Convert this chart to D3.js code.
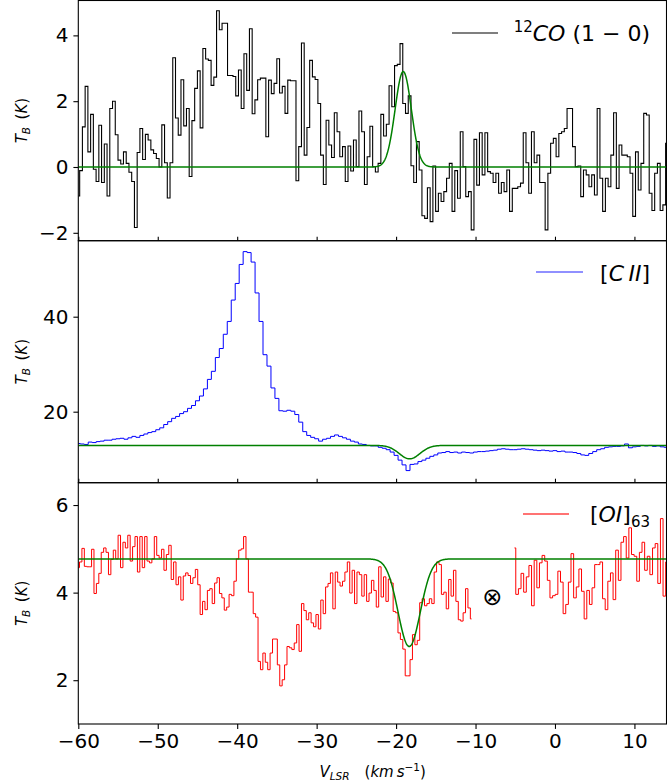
<!DOCTYPE html>
<html>
<head>
<meta charset="utf-8">
<script src="https://cdn.jsdelivr.net/npm/d3@7"></script>
<style>
  body { margin: 0; background: #fff; }
  svg { display: block; font-family: "DejaVu Sans", sans-serif; }
</style>
</head>
<body>
<svg id="chart"></svg>
<script>
// Spectra (T_B in K), channels evenly spaced over the given velocity span
const coSpan = [-60, 14.1];
const coValues = [
  -0.88, -0.11, 1.22, 2.45, 0.46, 1.60, -0.07, -0.44, 1.27, -0.47, 0.70, -0.88, 1.78, 2.00, 0.98, 0.21,
  0.09, 0.46, 0.11, -0.16, -0.44, -1.84, 0.44, 1.17, 0.23, 0.99, 0.82, 0.52, 0.41, 0.26, 0.00, 1.28,
  0.13, -0.94, 0.13, 3.32, 1.49, 0.97, 2.65, 1.25, 1.78, -0.29, 1.41, 2.39, 2.92, 1.19, 3.60, 3.28,
  3.24, 2.48, 2.73, 4.75, 4.17, 4.37, 4.37, 2.78, 2.78, 2.75, 2.16, 2.95, 1.78, 3.44, 2.33, 4.20,
  1.62, 2.04, 2.65, 2.70, 2.70,
  0.92, 2.64, 2.23, 2.54, 3.29, 2.25, 2.45, 1.63, 2.64, 2.62, 2.62, -0.42, 0.62, 3.77, 0.36, 1.20,
  3.24, 2.74, 2.66, 1.93, 0.36, -0.53, 1.42, 0.67, 0.29, 1.65, 1.07, 0.31, 0.62, -0.44, 0.64, -0.12,
  0.82, 0.01, 1.70, 1.07, -0.53, 0.31, 1.24, 0.01, -0.15, 0.11, 1.60, 0.94, 1.30, 2.47, 1.83, 3.08,
  3.12, 3.75, 1.93, 1.63, 2.16, 0.04, -0.47, 0.77, -0.09, -1.48, -1.56, -0.63, -1.66, 0.03, -1.35, -0.80,
  -1.05, -0.75, -0.34, 0.11, -1.35, -0.11,
  -0.95, 1.07, 0.01, -0.90, -0.75, -1.91, 0.84, -0.55, 1.04, -0.24, 1.04, -0.14, -0.19, -0.47, -0.19, -0.80,
  -0.47, -0.75, -0.09, -1.35, -0.65, -0.65, -0.60, -0.49, 1.04, 0.13, -0.80, 1.07, 0.13, 0.36, -0.47, -0.47,
  -1.91, -0.19, 0.72, 0.87, 0.31, 1.02, 1.07, 1.17, 1.78, 1.78, 0.62, 0.01, 0.03, -0.90, -0.09, -0.24,
  -0.60, -0.24, -0.85, 1.78, -0.34, -1.35, -0.34, -0.60, 0.36, 1.65, -0.65, 0.67, 0.36, 0.36, 0.31, -0.19,
  -1.50, 0.46, -0.70, 0.11, 1.63, 1.58, -0.80, -1.32, -0.19, 0.11, -1.32, -1.15, 0.72
];

const ciiSpan = [-60, 14];
const ciiValues = [
  13.3, 13.2, 13.1, 13.6, 13.5, 13.7, 13.8, 14.0, 14.0, 14.2, 14.3, 14.4, 14.2, 14.5, 14.8, 14.6,
  15.0, 15.3, 15.6, 15.8, 16.2, 16.6, 17.3, 17.9, 18.6, 19.0, 19.6, 20.0, 20.7, 21.3, 22.3, 23.3,
  24.8, 26.8, 28.5, 31.4, 33.3, 36.3, 39.0, 43.5, 47.0, 51.0, 53.7, 53.5, 51.5, 45.0, 39.0, 32.0,
  29.6, 25.0, 22.8, 20.2, 20.1, 20.3, 20.1, 19.4, 17.8, 15.8, 15.0, 14.6, 14.3, 13.8, 14.2, 14.4,
  14.8, 15.1, 14.8, 14.5, 14.2, 13.8, 13.6, 13.2, 13.1, 12.9, 12.8,
  12.8, 12.5, 12.3, 12.0, 11.5, 10.8, 9.8, 8.8, 7.6, 8.9, 9.0, 9.5, 9.8, 10.2, 10.6, 10.9,
  11.3, 11.4, 11.6, 11.4, 11.5, 11.3, 11.5, 11.4, 11.3, 11.5, 11.6, 11.6, 11.7, 11.8, 11.9, 12.1,
  12.2, 12.1, 12.0, 12.0, 12.1, 12.2, 12.1, 12.0, 11.9, 11.8, 11.9, 11.8, 11.7, 11.8, 11.6, 11.7,
  11.5, 11.5, 11.4, 11.2, 10.9, 10.8, 11.2, 11.6, 12.0, 12.2, 12.5, 12.6, 12.7, 12.7, 12.8, 13.2,
  12.4, 12.6, 12.7, 12.9, 12.8, 12.9, 12.7, 12.8, 12.6, 12.5
];

// [OI] has a gap in the middle (marked with the ⊗ symbol)
const oiSpanA = [-60, -10.5];
const oiValuesA = [
  4.57, 4.70, 5.01, 4.60, 4.59, 4.59, 4.99, 3.98, 4.21, 4.44, 4.92, 5.02, 4.92, 4.41, 4.76, 4.97,
  4.77, 5.31, 4.57, 5.15, 5.02, 5.31, 4.72, 5.05, 5.28, 4.47, 5.28, 4.57, 5.28, 4.72, 4.68, 4.77,
  5.28, 4.85, 4.79, 4.99, 4.51, 4.87, 5.08, 4.30, 4.70, 4.18, 4.36, 3.83, 4.38, 4.45, 4.39, 4.21,
  4.34, 4.53, 4.18, 3.50, 3.80, 3.61, 4.05, 4.09, 3.75, 4.22, 4.34, 3.98, 3.88, 3.60, 3.67, 3.96,
  3.93, 4.26, 4.77, 4.97, 5.00, 5.28, 4.77, 4.01, 4.01, 3.52, 3.44, 2.43, 2.24, 2.62, 2.41, 2.24,
  2.62, 2.94, 2.94, 2.35, 1.87, 2.01, 2.35, 2.77, 2.74, 2.70, 2.85, 3.27, 2.66, 3.75, 3.59, 3.38,
  3.54, 3.31, 3.22, 3.50, 3.17, 3.83, 3.52, 4.13, 4.21, 4.45, 3.63, 4.47, 4.24, 4.15, 4.26, 4.47,
  4.70, 3.99, 4.51, 3.75, 4.47, 4.41, 3.92, 4.41, 3.80, 3.99, 4.28, 4.05, 3.67, 4.59, 3.90, 4.36,
  3.80, 4.31, 4.22, 3.57, 3.54, 3.08, 2.93, 2.71, 2.10, 2.10, 2.47, 3.04, 2.81, 2.91, 3.77, 3.86,
  3.70, 3.75, 3.86, 3.75, 4.47, 4.70, 4.64, 3.96, 4.01, 3.63, 4.30, 3.92, 4.51, 3.80,
  3.38, 3.35, 3.54, 4.09, 3.65, 3.40
];
const oiSpanB = [-5.1, 14.1];
const oiValuesB = [
  5.02, 3.96, 4.09, 4.44, 4.01, 4.36, 4.62, 3.70, 4.74, 4.11, 4.68, 4.85, 4.72, 4.28, 3.88, 3.93,
  3.96, 4.49, 4.24, 3.52, 3.73, 4.24, 4.89, 3.88, 4.13, 4.54, 4.03, 3.40, 4.05, 3.73, 4.11, 4.64,
  4.64, 4.70, 3.86, 3.61, 4.26, 4.45, 3.84, 4.97, 4.28, 5.15, 5.28, 4.79, 5.48, 4.87, 4.83, 4.26,
  4.92, 5.15, 4.51, 4.83, 4.41, 5.02, 5.12, 4.21, 5.69, 3.92, 4.70
];
const gapMark = [-7.9, 3.89];

// Gaussian fits: [baseline, amplitude, centre, sigma]
const coFit = [0, 2.9, -19.1, 1.02];
const ciiFit = [12.9, -2.83, -18.3, 1.3];
const oiFit = [4.77, -2.0, -18.35, 1.4];

// Axis ticks
const xTicks = [-60, -50, -40, -30, -20, -10, 0, 10];
const coTicks = [-2, 0, 2, 4];
const ciiTicks = [20, 40];
const oiTicks = [2, 4, 6];

const width = 667, height = 784;
const left = 78.3, right = 667;

const svg = d3.select("#chart")
    .attr("width", width)
    .attr("height", height)
    .attr("viewBox", [0, 0, width, height]);

const x = d3.scaleLinear().domain([-60, 14.1]).range([left, right]);

const panels = [
    { top: 0.5,   bottom: 240.7, domain: [-2.24, 5.06], ticks: coTicks,  id: "co" },
    { top: 240.7, bottom: 482.7, domain: [5.05, 56.0],  ticks: ciiTicks, id: "cii" },
    { top: 482.7, bottom: 724,   domain: [1.0, 6.51],   ticks: oiTicks,  id: "oi" }
];

const minus = d => (d < 0 ? "\u2212" + Math.abs(d) : String(d));

function channels(values, span) {
    const dv = (span[1] - span[0]) / (values.length - 1);
    return values.map((t, i) => ({ v: span[0] + i * dv, t: t }));
}

function fitCurve(p) {
    const vs = d3.range(-60, 14.2, 0.05);
    return vs.map(v => ({ v: v, t: p[0] + p[1] * Math.exp(-0.5 * ((v - p[2]) / p[3]) ** 2) }));
}

const defs = svg.append("defs");

panels.forEach(p => {
    p.y = d3.scaleLinear().domain(p.domain).range([p.bottom, p.top]);
    defs.append("clipPath").attr("id", "clip-" + p.id)
        .append("rect")
        .attr("x", left).attr("y", p.top)
        .attr("width", right - left).attr("height", p.bottom - p.top);
    p.g = svg.append("g");
    p.plot = p.g.append("g").attr("clip-path", `url(#clip-${p.id})`);
    p.step = d3.line().x(d => x(d.v)).y(d => p.y(d.t)).curve(d3.curveStep);
    p.smooth = d3.line().x(d => x(d.v)).y(d => p.y(d.t));
});

// Data traces
const [pCO, pCII, pOI] = panels;

pCO.plot.append("path")
    .attr("d", pCO.step(channels(coValues, coSpan)))
    .attr("fill", "none").attr("stroke", "#000").attr("stroke-width", 1.1);
pCO.plot.append("path")
    .attr("d", pCO.smooth(fitCurve(coFit)))
    .attr("fill", "none").attr("stroke", "green").attr("stroke-width", 1.5);

pCII.plot.append("path")
    .attr("d", pCII.step(channels(ciiValues, ciiSpan)))
    .attr("fill", "none").attr("stroke", "#0000ff").attr("stroke-width", 1);
pCII.plot.append("path")
    .attr("d", pCII.smooth(fitCurve(ciiFit)))
    .attr("fill", "none").attr("stroke", "green").attr("stroke-width", 1.5);

[[oiValuesA, oiSpanA], [oiValuesB, oiSpanB]].forEach(([vals, span]) => {
    pOI.plot.append("path")
        .attr("d", pOI.step(channels(vals, span)))
        .attr("fill", "none").attr("stroke", "#ff0000").attr("stroke-width", 1);
});
pOI.plot.append("path")
    .attr("d", pOI.smooth(fitCurve(oiFit)))
    .attr("fill", "none").attr("stroke", "green").attr("stroke-width", 1.5);

pOI.g.append("text")
    .attr("x", x(gapMark[0]))
    .attr("y", pOI.y(gapMark[1]))
    .attr("text-anchor", "middle")
    .attr("dominant-baseline", "central")
    .attr("font-size", 24)
    .text("\u2297");

// Axes and frames
panels.forEach((p, i) => {
    const yAxis = d3.axisLeft(p.y).tickValues(p.ticks).tickSize(4.9).tickPadding(4.9).tickFormat(minus);
    p.g.append("g")
        .attr("transform", `translate(${left},0)`)
        .call(yAxis)
        .call(g => g.select(".domain").remove())
        .call(g => g.selectAll("text").attr("font-size", 20).attr("font-family", "DejaVu Sans"))
        .call(g => g.selectAll("line").attr("stroke-width", 1.1));

    if (i < 2) {
        // small inward ticks on the shared boundary
        p.g.append("g")
            .attr("transform", `translate(0,${p.bottom})`)
            .call(d3.axisTop(x).tickValues(xTicks).tickSize(4).tickFormat(""))
            .call(g => g.select(".domain").remove())
            .call(g => g.selectAll("line").attr("stroke-width", 1.1));
    } else {
        p.g.append("g")
            .attr("transform", `translate(0,${p.bottom})`)
            .call(d3.axisBottom(x).tickValues(xTicks).tickSize(4.9).tickPadding(4.9).tickFormat(minus))
            .call(g => g.select(".domain").remove())
            .call(g => g.selectAll("text").attr("font-size", 20).attr("font-family", "DejaVu Sans"))
            .call(g => g.selectAll("line").attr("stroke-width", 1.1));
    }

    p.g.append("rect")
        .attr("x", left).attr("y", p.top)
        .attr("width", right - left - 0.5).attr("height", p.bottom - p.top)
        .attr("fill", "none").attr("stroke", "#000").attr("stroke-width", 1.1);

    // y label T_B (K)
    const lab = p.g.append("text")
        .attr("transform", `translate(27,${(p.top + p.bottom) / 2}) rotate(-90)`)
        .attr("text-anchor", "middle")
        .attr("font-size", 15);
    lab.append("tspan").attr("font-style", "italic").text("T");
    lab.append("tspan").attr("font-style", "italic").attr("font-size", 10.5).attr("dy", 3).text("B");
    lab.append("tspan").attr("dy", -3).text("\u2002(");
    lab.append("tspan").attr("font-style", "italic").text("K");
    lab.append("tspan").text(")");
});

// Legends
function legendLine(p, x1, x2, yy, color) {
    p.g.append("line")
        .attr("x1", x1).attr("x2", x2).attr("y1", yy).attr("y2", yy)
        .attr("stroke", color).attr("stroke-width", 1.5);
}

legendLine(pCO, 452, 498, 33, "#555");
const t1 = pCO.g.append("text").attr("x", 650).attr("y", 41).attr("text-anchor", "end").attr("font-size", 22);
t1.append("tspan").attr("font-size", 15).attr("dy", -9).text("12");
t1.append("tspan").attr("font-style", "italic").attr("dy", 9).text("CO");
t1.append("tspan").text(" (1 \u2212 0)");

legendLine(pCII, 536, 583, 272, "#6b6bff");
const t2 = pCII.g.append("text").attr("x", 650).attr("y", 281).attr("text-anchor", "end").attr("font-size", 22);
t2.append("tspan").text("[");
t2.append("tspan").attr("font-style", "italic").text("C\u2009II");
t2.append("tspan").text("]");

legendLine(pOI, 523, 569, 514, "#ff4444");
const t3 = pOI.g.append("text").attr("x", 650).attr("y", 522).attr("text-anchor", "end").attr("font-size", 22);
t3.append("tspan").text("[");
t3.append("tspan").attr("font-style", "italic").text("OI");
t3.append("tspan").text("]");
t3.append("tspan").attr("font-size", 15).attr("dy", 5).text("63");

// x label V_LSR (km s^-1)
const xl = svg.append("text")
    .attr("x", (left + right) / 2)
    .attr("y", 777)
    .attr("text-anchor", "middle")
    .attr("font-size", 15);
xl.append("tspan").attr("font-style", "italic").text("V");
xl.append("tspan").attr("font-style", "italic").attr("font-size", 10.5).attr("dy", 3).text("LSR");
xl.append("tspan").attr("dy", -3).text("\u2003(");
xl.append("tspan").attr("font-style", "italic").text("km\u2009s");
xl.append("tspan").attr("font-size", 10.5).attr("dy", -6).text("\u22121");
xl.append("tspan").attr("dy", 6).text(")");
</script>
</body>
</html>
